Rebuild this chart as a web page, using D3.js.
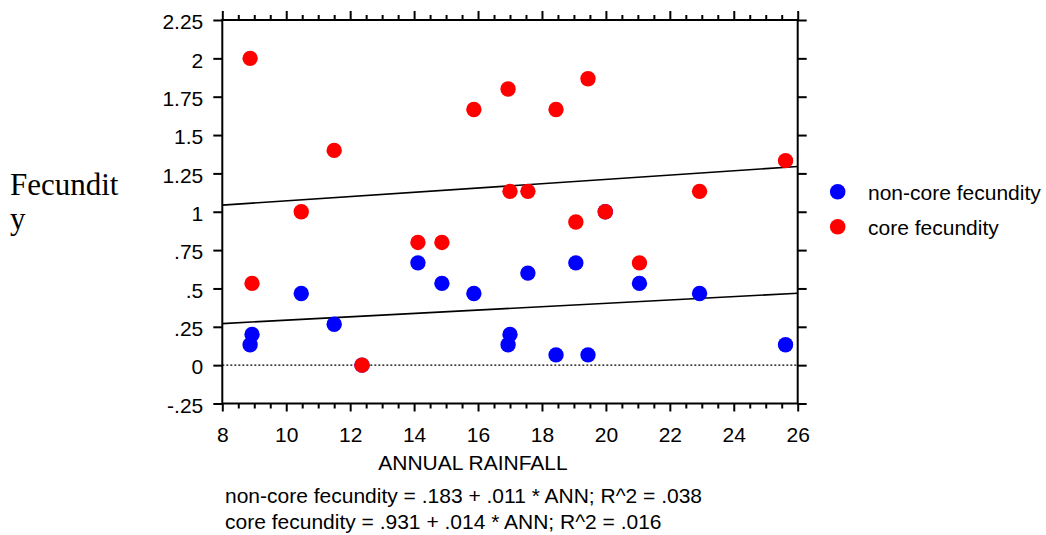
<!DOCTYPE html>
<meta charset="utf-8">
<script src="https://d3js.org/d3.v7.min.js"></script>
<style>
  body { margin: 0; background: #fff; }
</style>
<div id="chart"></div>
<script>
// annual rainfall per site, shared by both series
var rainfall = [8.87, 8.93, 10.47, 11.5, 12.37, 14.12, 14.87, 15.87, 16.94, 17.0, 17.56, 18.44, 19.44, 19.06, 19.98, 21.05, 22.93, 25.62];
var nonCore  = [0.133, 0.2, 0.467, 0.267, 0, 0.667, 0.533, 0.467, 0.133, 0.2, 0.6, 0.067, 0.067, 0.667, 1.0, 0.533, 0.467, 0.133];
var core     = [2.0, 0.533, 1.0, 1.4, 0, 0.8, 0.8, 1.667, 1.8, 1.133, 1.133, 1.667, 1.867, 0.933, 1.0, 0.667, 1.133, 1.333];

var seriesNames = ["non-core fecundity", "core fecundity"];
var seriesColors = ["#0000ff", "#ff0000"];
var intercepts = [0.183, 0.931];
var slopes = [0.011, 0.014];
var equations = [
  "non-core fecundity = .183 + .011 * ANN; R^2 = .038",
  "core fecundity = .931 + .014 * ANN; R^2 = .016"
];

var xTicks = [8, 10, 12, 14, 16, 18, 20, 22, 24, 26];
var yTicks = [-0.25, 0, 0.25, 0.5, 0.75, 1, 1.25, 1.5, 1.75, 2, 2.25];
var yTickLabels = ["-.25", "0", ".25", ".5", ".75", "1", "1.25", "1.5", "1.75", "2", "2.25"];

var width = 1046, height = 535;
var plotLeft = 222.3, plotRight = 797.7, plotTop = 20, plotBottom = 403.5;
var sans = "'Liberation Sans', Arial, sans-serif";

var svg = d3.select("#chart").append("svg")
    .attr("width", width)
    .attr("height", height)
    .style("font-family", sans);

var x = d3.scaleLinear().domain([8, 26]).range([plotLeft, plotRight]);
var y = d3.scaleLinear().domain([-0.25, 2.25]).range([plotBottom, plotTop]);

var minorX = d3.range(8, 26.01, 0.5).filter(function(v) { return xTicks.indexOf(v) < 0; });

// bottom axis, major with labels + minor ticks
svg.append("g").attr("transform", "translate(0," + plotBottom + ")")
    .call(d3.axisBottom(x).tickValues(xTicks).tickSize(8).tickPadding(16).tickFormat(d3.format("d")));
svg.append("g").attr("transform", "translate(0," + plotBottom + ")")
    .call(d3.axisBottom(x).tickValues(minorX).tickSize(5).tickFormat(""));

// top axis
svg.append("g").attr("transform", "translate(0," + plotTop + ")")
    .call(d3.axisTop(x).tickValues(xTicks).tickSize(9).tickFormat(""));
svg.append("g").attr("transform", "translate(0," + plotTop + ")")
    .call(d3.axisTop(x).tickValues(minorX).tickSize(5).tickFormat(""));

// left axis
var gy = svg.append("g").attr("transform", "translate(" + plotLeft + ",0)")
    .call(d3.axisLeft(y).tickValues(yTicks).tickSize(9).tickPadding(10)
      .tickFormat(function(d, i) { return yTickLabels[i]; }));
gy.selectAll(".tick text").attr("dy", "0.42em");

// right axis
svg.append("g").attr("transform", "translate(" + plotRight + ",0)")
    .call(d3.axisRight(y).tickValues(yTicks).tickSize(9).tickFormat(""));

svg.selectAll(".domain").remove();
svg.selectAll(".tick line").attr("stroke", "#000").attr("stroke-width", 2);
svg.selectAll(".tick text")
    .style("font-size", "21px")
    .style("font-family", sans)
    .attr("fill", "#000");

// frame
svg.append("rect")
    .attr("x", plotLeft).attr("y", plotTop)
    .attr("width", plotRight - plotLeft).attr("height", plotBottom - plotTop)
    .attr("fill", "none").attr("stroke", "#000").attr("stroke-width", 2);

// zero line
svg.append("line")
    .attr("x1", plotLeft).attr("x2", plotRight)
    .attr("y1", y(0)).attr("y2", y(0))
    .attr("stroke", "#000").attr("stroke-width", 1.3)
    .attr("stroke-dasharray", "2,2");

// regression lines
intercepts.forEach(function(b, i) {
  var m = slopes[i];
  svg.append("line")
      .attr("x1", x(8)).attr("y1", y(b + m * 8))
      .attr("x2", x(26)).attr("y2", y(b + m * 26))
      .attr("stroke", "#000").attr("stroke-width", 1.6);
});

// points
[nonCore, core].forEach(function(vals, i) {
  svg.append("g").selectAll("circle")
      .data(vals)
      .enter()
      .append("circle")
      .attr("cx", function(d, j) { return x(rainfall[j]); })
      .attr("cy", function(d) { return y(d); })
      .attr("r", 7.7)
      .attr("fill", seriesColors[i]);
});

// axis titles
svg.append("text")
    .attr("x", 473).attr("y", 470)
    .attr("text-anchor", "middle")
    .style("font-size", "21px")
    .text("ANNUAL RAINFALL");

var ylab = svg.append("text")
    .style("font-family", "'Liberation Serif', 'Times New Roman', serif")
    .style("font-size", "31px");
ylab.append("tspan").attr("x", 10).attr("y", 195).text("Fecundit");
ylab.append("tspan").attr("x", 10).attr("y", 229).text("y");

// legend
seriesNames.forEach(function(name, i) {
  var ly = 191.7 + i * 35;
  svg.append("circle")
      .attr("cx", 837.7).attr("cy", ly).attr("r", 7.8)
      .attr("fill", seriesColors[i]);
  svg.append("text")
      .attr("x", 868).attr("y", ly + 8)
      .style("font-size", "21px")
      .text(name);
});

// equations
equations.forEach(function(t, i) {
  svg.append("text")
      .attr("x", 225).attr("y", 503 + i * 26)
      .style("font-size", "21px")
      .text(t);
});
</script>
